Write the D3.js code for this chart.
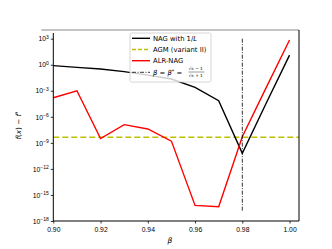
<!DOCTYPE html>
<html>
<head>
<meta charset="utf-8">
<script src="https://cdn.jsdelivr.net/npm/d3@7"></script>
<style>
  body { margin: 0; background: #fff; }
  svg { font-family: "DejaVu Sans", sans-serif; }
</style>
</head>
<body>
<div id="chart-area"></div>
<script>
// data (log10 of f(x) - f*)
var betas = [0.90, 0.91, 0.92, 0.93, 0.94, 0.95, 0.96, 0.97, 0.98, 0.99, 1.00];
var nagLog = [-0.1, -0.3, -0.5, -0.8, -1.2, -1.65, -2.6, -4.15, -10.2, -4.5, 1.1];
var alrLog = [-3.8, -3.0, -8.5, -6.9, -7.4, -8.8, -16.2, -16.35, -8.3, -2.7, 2.85];
var agmLog = -8.36;
var betaStar = 0.98;
var vlineLog = [3, -16.9];
var xTicks = [0.90, 0.92, 0.94, 0.96, 0.98, 1.00];
var yTickExp = [3, 0, -3, -6, -9, -12, -15, -18];

var chartWidth = 332, chartHeight = 249;
var margin = { top: 30, right: 33, bottom: 28, left: 53.3 };
var width = chartWidth - margin.left - margin.right,
    height = chartHeight - margin.top - margin.bottom;

var svg = d3.select("#chart-area").append("svg")
    .attr("width", chartWidth)
    .attr("height", chartHeight);

var g = svg.append("g")
    .attr("transform", "translate(" + margin.left + "," + margin.top + ")");

// scales
var x = d3.scaleLinear().domain([0.9, 1.004]).range([0, width]);
var y = d3.scaleLog().domain([1e-18, 1e4]).range([height, 0]);

var nag = betas.map((b, i) => ({ b: b, v: Math.pow(10, nagLog[i]) }));
var alr = betas.map((b, i) => ({ b: b, v: Math.pow(10, alrLog[i]) }));

var line = d3.line()
    .x(d => x(d.b))
    .y(d => y(d.v));

// AGM dashed line
g.append("line")
    .attr("x1", x(0.9)).attr("x2", x(1.004))
    .attr("y1", y(Math.pow(10, agmLog))).attr("y2", y(Math.pow(10, agmLog)))
    .attr("stroke", "#bfbf00")
    .attr("stroke-width", 1.6)
    .attr("stroke-dasharray", "6,3");

// NAG with 1/L
g.append("path")
    .datum(nag)
    .attr("d", line)
    .attr("fill", "none")
    .attr("stroke", "#000")
    .attr("stroke-width", 1.4);

// ALR-NAG
g.append("path")
    .datum(alr)
    .attr("d", line)
    .attr("fill", "none")
    .attr("stroke", "#ff0000")
    .attr("stroke-width", 1.4);

// beta* vertical line
g.append("line")
    .attr("x1", x(betaStar)).attr("x2", x(betaStar))
    .attr("y1", y(Math.pow(10, vlineLog[0]))).attr("y2", y(Math.pow(10, vlineLog[1])))
    .attr("stroke", "#000")
    .attr("stroke-width", 0.8)
    .attr("stroke-dasharray", "4,1.5,1,1.5");

// axes
var xAxis = d3.axisBottom(x)
    .tickValues(xTicks)
    .tickFormat(d3.format(".2f"))
    .tickSize(2.5)
    .tickPadding(2);

g.append("g")
    .attr("class", "x-axis")
    .attr("transform", "translate(0," + height + ")")
    .call(xAxis);

var yAxis = d3.axisLeft(y)
    .tickValues(yTickExp.map(e => Math.pow(10, e)))
    .tickSize(2.5)
    .tickPadding(2);

var yAxisGroup = g.append("g")
    .attr("class", "y-axis")
    .call(yAxis);

yAxisGroup.selectAll("text").each(function(d) {
    var e = Math.round(Math.log10(d));
    var t = d3.select(this).text("");
    t.append("tspan").text("10");
    t.append("tspan")
        .attr("dy", "-0.45em")
        .attr("font-size", "5px")
        .text(String(e).replace("-", "\u2212"));
});

g.selectAll(".domain").remove();
g.selectAll(".tick line").attr("stroke", "#000").attr("stroke-width", 0.8);
g.selectAll(".tick text").attr("font-size", "6.8px").attr("fill", "#000");
g.selectAll(".x-axis .tick text").attr("dy", "0.9em");

// frame
g.append("line").attr("x1", -12).attr("x2", width).attr("y1", 0).attr("y2", 0)
    .attr("stroke", "#888").attr("stroke-width", 1);
g.append("line").attr("x1", 0).attr("x2", 0).attr("y1", 3).attr("y2", height)
    .attr("stroke", "#000").attr("stroke-width", 1);
g.append("line").attr("x1", width).attr("x2", width).attr("y1", 0).attr("y2", height)
    .attr("stroke", "#000").attr("stroke-width", 1);
g.append("line").attr("x1", 0).attr("x2", width).attr("y1", height).attr("y2", height)
    .attr("stroke", "#000").attr("stroke-width", 1);

// axis labels
svg.append("text")
    .attr("x", 170).attr("y", 243)
    .attr("text-anchor", "middle")
    .attr("font-size", "7.5px")
    .attr("font-style", "italic")
    .text("\u03b2");

var yl = svg.append("text")
    .attr("transform", "translate(21," + (margin.top + height / 2) + ") rotate(-90)")
    .attr("text-anchor", "middle")
    .attr("font-size", "7.2px");
yl.append("tspan").attr("font-style", "italic").text("f");
yl.append("tspan").text("(");
yl.append("tspan").attr("font-style", "italic").text("x");
yl.append("tspan").text(") \u2212 ");
yl.append("tspan").attr("font-style", "italic").text("f");
yl.append("tspan").attr("dy", "-0.4em").attr("font-size", "5px").text("*");

// legend
var legend = svg.append("g");
legend.append("rect")
    .attr("x", 130).attr("y", 33).attr("width", 81).attr("height", 49)
    .attr("rx", 1.5)
    .attr("fill", "#fff").attr("fill-opacity", 0.8)
    .attr("stroke", "#ccc").attr("stroke-width", 0.8);

var legendItems = [
    { color: "#000", dash: null, w: 1.4, y: 38.3 },
    { color: "#bfbf00", dash: "4,2", w: 1.6, y: 49.5 },
    { color: "#ff0000", dash: null, w: 1.4, y: 60.7 },
    { color: "#000", dash: "4,1.5,1,1.5", w: 0.8, y: 72.3 }
];
legendItems.forEach(function(d) {
    legend.append("line")
        .attr("x1", 132).attr("x2", 150)
        .attr("y1", d.y).attr("y2", d.y)
        .attr("stroke", d.color)
        .attr("stroke-width", d.w)
        .attr("stroke-dasharray", d.dash);
});

var t1 = legend.append("text").attr("x", 153).attr("y", 38.3).attr("dy", "0.35em").attr("font-size", "6.8px");
t1.append("tspan").text("NAG with 1/");
t1.append("tspan").attr("font-style", "italic").text("L");
legend.append("text").attr("x", 153).attr("y", 49.5).attr("dy", "0.35em").attr("font-size", "6.8px")
    .text("AGM (variant II)");
legend.append("text").attr("x", 153).attr("y", 60.7).attr("dy", "0.35em").attr("font-size", "6.8px")
    .text("ALR-NAG");

var t4 = legend.append("text").attr("x", 153).attr("y", 72.3).attr("dy", "0.35em").attr("font-size", "6.8px");
t4.append("tspan").attr("font-style", "italic").text("\u03b2");
t4.append("tspan").text(" = ");
t4.append("tspan").attr("font-style", "italic").text("\u03b2");
t4.append("tspan").attr("dy", "-0.4em").attr("font-size", "5px").text("*");
t4.append("tspan").attr("dy", "0.4em").text(" = ");

// fraction sqrt(kappa)-1 over sqrt(kappa)+1
var fx = 188.5;
legend.append("text").attr("x", fx).attr("y", 70.3).attr("font-size", "4.3px")
    .text("\u221a\u03ba \u2212 1");
legend.append("line").attr("x1", fx).attr("x2", fx + 16)
    .attr("y1", 72).attr("y2", 72)
    .attr("stroke", "#000").attr("stroke-width", 0.4);
legend.append("text").attr("x", fx).attr("y", 76.5).attr("font-size", "4.3px")
    .text("\u221a\u03ba + 1");
</script>
</body>
</html>
